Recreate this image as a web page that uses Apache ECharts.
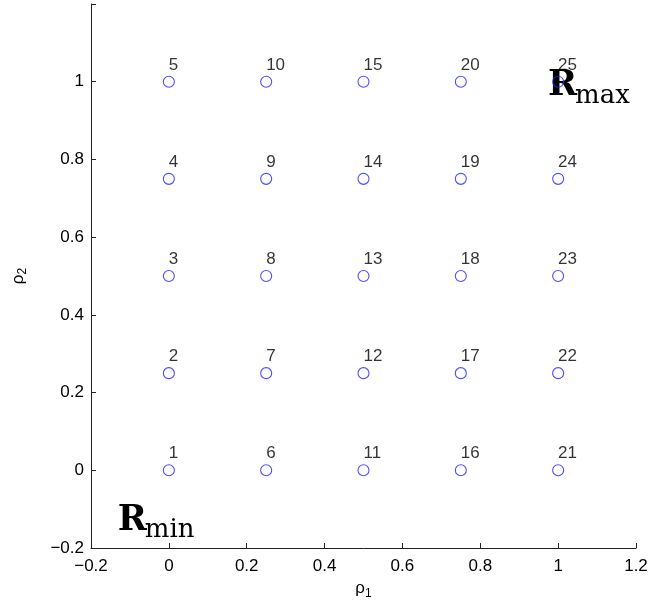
<!DOCTYPE html>
<html><head><meta charset="utf-8">
<script src="https://cdn.jsdelivr.net/npm/echarts@6/dist/echarts.min.js"></script>
<style>html,body{margin:0;padding:0;background:#fff}#c{width:666px;height:603px}</style>
</head><body><div id="c"></div>
<script>
// grid design values
const rho1Values = [0, 0.25, 0.5, 0.75, 1];
const rho2Values = [0, 0.25, 0.5, 0.75, 1];
// point labels (index numbering: column-major)
const pointLabels = ['1','2','3','4','5','6','7','8','9','10','11','12','13','14','15','16','17','18','19','20','21','22','23','24','25'];
const xTickRange = {min: -0.2, max: 1.2, interval: 0.2};
const yTickRange = {min: -0.2, max: 1.2, interval: 0.2};
// annotations: [label, subscript, rho1, rho2]
const annotations = [['R', 'max', 0.974, 0.956], ['R', 'min', -0.131, -0.162]];

const points = [];
let k = 0;
for (const a of rho1Values) for (const b of rho2Values) { points.push({value: [a, b], name: pointLabels[k++]}); }

const fmt = v => { const s = (Math.round(v * 10) / 10).toString(); return s.replace('-', '\u2212'); };
const FONT = 'Liberation Sans, Arial, Helvetica, sans-serif';
const chart = echarts.init(document.getElementById('c'), null, {renderer: 'canvas'});
chart.setOption({
  animation: false,
  grid: {left: 91, right: 30, top: 4, bottom: 55, containLabel: false, outerBoundsMode: 'none'},
  xAxis: {
    type: 'value', min: xTickRange.min, max: xTickRange.max, interval: xTickRange.interval,
    splitLine: {show: false},
    axisLine: {onZero: false, lineStyle: {color: '#222', width: 1}},
    axisTick: {inside: true, length: 5, lineStyle: {color: '#222'}},
    axisLabel: {formatter: fmt, color: '#000', fontSize: 17, fontFamily: FONT, margin: 10},
    name: '{a|\u03c1}{b|1}', nameLocation: 'middle', nameGap: 28,
    nameTextStyle: {rich: {a: {fontSize: 17, fontFamily: FONT, color: '#000'}, b: {fontSize: 12, fontFamily: FONT, color: '#000', padding: [10, 0, 0, 0]}}}
  },
  yAxis: {
    type: 'value', min: yTickRange.min, max: yTickRange.max, interval: yTickRange.interval,
    splitLine: {show: false},
    axisLine: {onZero: false, lineStyle: {color: '#222', width: 1}},
    axisTick: {inside: true, length: 5, lineStyle: {color: '#222'}},
    axisLabel: {formatter: v => v > 1.1 ? '' : fmt(v), color: '#000', fontSize: 17, fontFamily: FONT, margin: 7},
    name: '{a|\u03c1}{b|2}', nameLocation: 'middle', nameGap: 62, nameRotate: 90,
    nameTextStyle: {rich: {a: {fontSize: 17, fontFamily: FONT, color: '#000'}, b: {fontSize: 12, fontFamily: FONT, color: '#000', padding: [10, 0, 0, 0]}}}
  },
  series: [{
    type: 'scatter', data: points, symbol: 'circle', symbolSize: 11,
    itemStyle: {color: 'rgba(0,0,0,0)', borderColor: '#2020ff', borderWidth: 1.1},
    label: {show: true, formatter: p => p.name, position: [6, -2], align: 'left', verticalAlign: 'bottom',
      color: '#000', fontSize: 17, fontFamily: FONT},
    emphasis: {disabled: true}
  }]
});
const graphics = [];
for (const [t, sub, x, y] of annotations) {
  const p = chart.convertToPixel({gridIndex: 0}, [x, y]);
  graphics.push({type: 'text', x: p[0], y: p[1] + 5, style: {text: t, font: 'bold 35px "DejaVu Serif", serif', fill: '#000', textAlign: 'left', textVerticalAlign: 'bottom'}});
  graphics.push({type: 'text', x: p[0] + 27, y: p[1] + 10, style: {text: sub, font: '26px "DejaVu Serif", serif', fill: '#000', textAlign: 'left', textVerticalAlign: 'bottom'}});
}
chart.setOption({graphic: graphics});
</script></body></html>
